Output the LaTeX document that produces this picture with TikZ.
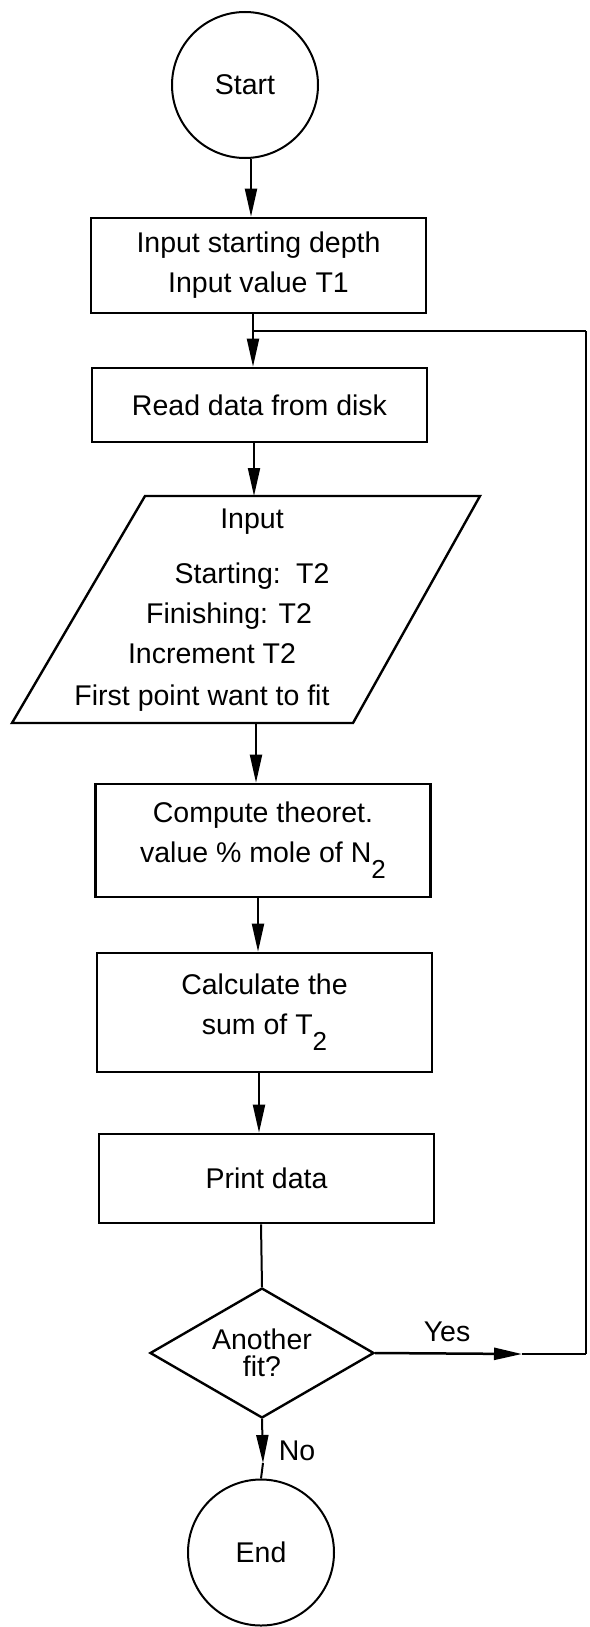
\documentclass[tikz,border=0pt]{standalone}
\usepackage{fontspec}
\setmainfont{Liberation Sans}
\usetikzlibrary{arrows.meta,shapes.geometric}
\newcommand\lowsub[1]{\raisebox{-16pt}{\fontsize{26}{26}\selectfont #1}}
\begin{document}
\begin{tikzpicture}[x=1pt,y=-1pt,
  every node/.style={font=\fontsize{28.5}{40}\selectfont},
  term/.style={draw, line width=2pt, circle, minimum size=146pt, inner sep=0pt},
  procbox/.style={draw, line width=2.6pt, rectangle, minimum width=335pt, inner sep=0pt, align=center},
  decision/.style={draw, line width=2.4pt, diamond, shape aspect=1.72, minimum width=224pt, minimum height=130pt, inner sep=0pt, align=center, font=\fontsize{28.5}{27}\selectfont},
  arr/.style={line width=2pt, -{Triangle[length=28pt,width=12pt]}},
  ln/.style={line width=2pt},
  lbl/.style={inner sep=0pt}
]
\useasboundingbox (0,0) rectangle (589,1627);
\fill[white] (0,0) rectangle (589,1627);

% nodes
\node[term] (start) at (245,85) {Start};
\node[procbox, minimum height=95pt] (b1) at (258.5,265.5) {Input starting depth\\Input value T1};
\node[procbox, minimum height=74pt] (b2) at (259.5,405) {Read data from disk};

% input parallelogram
\draw[line width=2.4pt, line join=miter] (145,496) -- (480,496) -- (353,723) -- (12,723) -- cycle;
\coordinate (ptop) at (254,496);
\coordinate (pbot) at (256,723);
\node[anchor=base, lbl] (t0) at (252,528) {Input};
\node[anchor=base, lbl] (t1) at (252,583) {Starting:\, T2};
\node[anchor=base, lbl] (t2) at (229,623) {Finishing: T2};
\node[anchor=base, lbl] (t3) at (212,663) {Increment T2};
\node[anchor=base, lbl] (t4) at (202,705) {First point want to fit};

\node[procbox, minimum height=113pt] (b3) at (263,840.5) {Compute theoret.\\value \% mole of N\lowsub{2}};
\node[procbox, minimum height=119pt] (b4) at (264.5,1012.5) {Calculate the\\sum of T\lowsub{2}};
\node[procbox, minimum height=89pt] (b5) at (266.5,1178.5) {Print data};
\node[decision] (d) at (262,1353) {Another\\fit?};
\node[term] (end) at (261,1552.5) {End};

% arrow columns
\coordinate (c1) at (251,0);
\coordinate (c2) at (253,0);
\coordinate (c3) at (254,0);
\coordinate (c4) at (256,0);
\coordinate (c5) at (258,0);
\coordinate (c6) at (259,0);
\coordinate (c7) at (261,0);

% connectors
\draw[arr] (start.south -| c1) -- (b1.north -| c1);
\draw[arr] (b1.south -| c2) -- (b2.north -| c2);
\draw[arr] (b2.south -| c3) -- (ptop);
\draw[arr] (pbot) -- (b3.north -| c4);
\draw[arr] (b3.south -| c5) -- (b4.north -| c5);
\draw[arr] (b4.south -| c6) -- (b5.north -| c6);
\draw[ln] (b5.south -| c7) -- (d.north);

\coordinate (notip) at (263,1463);
\draw[arr] (d.south) -- (notip);
\draw[ln] (notip) -- (end.north);
\node[lbl] (no) at (297,1451) {No};

% loop back
\coordinate (J) at (253,331);
\coordinate (ytip) at (522,1354);
\coordinate (R2) at (586,1354);
\coordinate (R1) at (586,331);
\draw[arr, line width=2.5pt] (d.east) -- (ytip);
\draw[line width=2.5pt] (ytip) -- (R2);
\draw[line width=1.8pt] (R2) -- (R1);
\draw[line width=2.5pt] (R1) -- (J);
\node[lbl] (yes) at (447,1332) {Yes};
\end{tikzpicture}
\end{document}
